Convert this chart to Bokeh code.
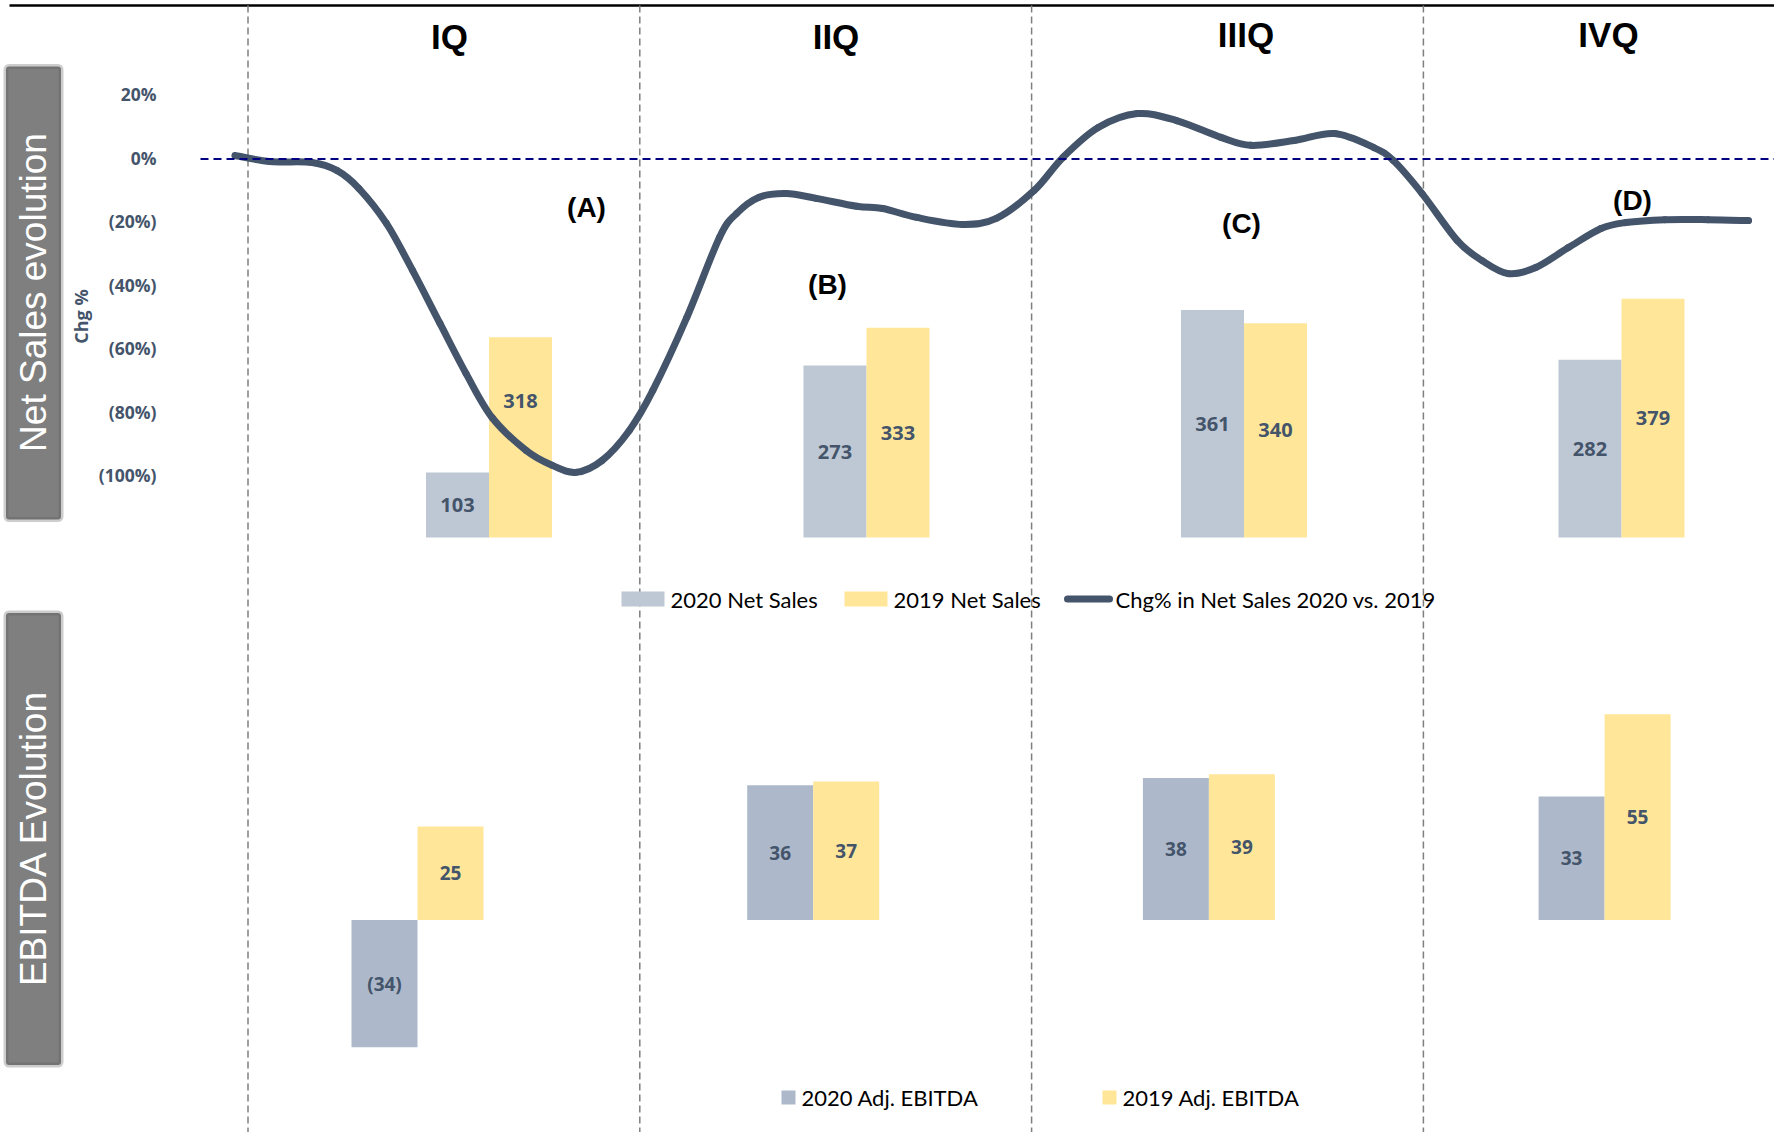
from bokeh.plotting import figure
from bokeh.models import Range1d, BoxAnnotation
from bokeh.core.properties import value
from bokeh.embed import file_html
from bokeh.resources import INLINE
import math

# ---------------------------------------------------------------- data
quarters = ["IQ", "IIQ", "IIIQ", "IVQ"]
notes = ["(A)", "(B)", "(C)", "(D)"]
net_sales_2020 = [103, 273, 361, 282]
net_sales_2019 = [318, 333, 340, 379]
ebitda_2020 = [-34, 36, 38, 33]
ebitda_2019 = [25, 37, 39, 55]
pct_ticks = [20, 0, -20, -40, -60, -80, -100]
quarter_start_month = [0, 3, 6, 9]

# Chg% in Net Sales 2020 vs. 2019 through the year (month, %)
chg_month = [-0.10, 0.17, 0.49, 0.68, 0.85, 1.06, 1.26, 1.47, 1.67, 1.87,
             2.13, 2.33, 2.51, 2.71, 2.92, 3.10, 3.36, 3.61, 3.74, 3.91,
             4.12, 4.35, 4.66, 4.86, 5.12, 5.47, 5.73, 6.02, 6.24, 6.51,
             6.81, 7.11, 7.45, 7.68, 8.01, 8.32, 8.62, 8.77, 8.99, 9.26,
             9.45, 9.65, 9.86, 10.11, 10.36, 10.55, 10.85, 11.18, 11.49]
chg_pct = [1.1, -0.8, -1.1, -3.6, -9.3, -20.3, -35.1, -51.8, -67.6, -81.5,
           -91.8, -96.5, -98.7, -95.0, -85.5, -72.9, -49.9, -24.7, -17.2, -12.1,
           -10.9, -12.4, -14.9, -15.6, -18.4, -20.6, -18.7, -9.9, 0.5, 9.9,
           14.3, 12.1, 6.8, 4.3, 5.8, 8.0, 3.6, -0.5, -10.9, -25.7,
           -32.0, -36.1, -34.2, -27.9, -21.9, -20.0, -19.1, -19.1, -19.4]

# ---------------------------------------------------------------- styles
W, H = 1774, 1132
SLATE = "#44546A"
NS_GREY = "#BEC8D5"
EB_GREY = "#ADB9CA"
GOLD = "#FFE699"
LABEL_FONT = value("Open Sans")
LEGEND_FONT = value("Lato")
ARIAL = value("Liberation Sans")


def fmt_num(v):
    return f"({abs(v)})" if v < 0 else f"{v}"


def fmt_pct(v):
    return f"({abs(v)}%)" if v < 0 else f"{v}%"


p = figure(width=W, height=H, x_range=Range1d(0, W), y_range=Range1d(H, 0),
           output_backend="svg", toolbar_location=None, min_border=0,
           x_axis_location=None, y_axis_location=None, title=None)
p.grid.visible = False
p.outline_line_color = None
p.background_fill_color = "white"
p.border_fill_color = "white"

# scales for the three panels: net sales, change %, EBITDA
NS_X0, NS_STEP = 488.5, 377.5
EB_X0, EB_STEP = 417.0, 395.7
M_X0, M_STEP = 247.5, 130.6
NS_BASE, NS_PX = 537.0, 0.63
PCT_ZERO, PCT_PX = 158.5, 3.175
EB_BASE, EB_PX = 919.5, 3.74

p.extra_x_ranges = {
    "ns": Range1d(-NS_X0 / NS_STEP, (W - NS_X0) / NS_STEP),
    "eb": Range1d(-EB_X0 / EB_STEP, (W - EB_X0) / EB_STEP),
    "month": Range1d(-M_X0 / M_STEP, (W - M_X0) / M_STEP),
}
p.extra_y_ranges = {
    "ns": Range1d(-(H - NS_BASE) / NS_PX, NS_BASE / NS_PX),
    "pct": Range1d(-(H - PCT_ZERO) / PCT_PX, PCT_ZERO / PCT_PX),
    "eb": Range1d(-(H - EB_BASE) / EB_PX, EB_BASE / EB_PX),
}

# ---------------------------------------------------------------- frame
p.segment(x0=[9], x1=[W], y0=[5], y1=[5], line_color="black", line_width=2.5)
p.segment(x0=quarter_start_month, x1=quarter_start_month,
          y0=[5] * 4, y1=[H] * 4, x_range_name="month",
          line_color="#7F7F7F", line_width=1.5, line_dash="7 4")

for top, bottom, caption, cy in [(66, 519, "Net Sales evolution", 292),
                                 (612.5, 1064.5, "EBITDA Evolution", 837.5)]:
    p.add_layout(BoxAnnotation(left=5.5, right=60.5, top=top, bottom=bottom,
                               fill_color="#7F7F7F", fill_alpha=1,
                               line_color="#595959", line_width=5,
                               border_radius=3, level="underlay"))
    p.text(x=[33], y=[cy], text=[caption], angle=math.pi / 2,
           text_align="center", text_baseline="middle",
           text_font=ARIAL, text_font_size="37px", text_color="white")

# quarter headings and notes
p.text(x=[449, 835.5, 1245.5, 1608], y=[36, 36, 34, 34], text=quarters,
       text_align="center", text_baseline="middle", text_font=ARIAL,
       text_font_style="bold", text_font_size="35px", text_color="black")
p.text(x=[586, 827, 1241, 1632], y=[207, 284, 223, 200], text=notes,
       text_align="center", text_baseline="middle", text_font=ARIAL,
       text_font_style="bold", text_font_size="28px", text_color="black")

# ---------------------------------------------------------------- change % axis
p.text(x=[156] * len(pct_ticks), y=pct_ticks, y_range_name="pct",
       text=[fmt_pct(v) for v in pct_ticks], y_offset=-1.5,
       text_align="right", text_baseline="middle", text_font=LABEL_FONT,
       text_font_style="bold", text_font_size="17.5px", text_color=SLATE)
p.text(x=[80], y=[316], text=["Chg %"], angle=math.pi / 2,
       text_align="center", text_baseline="middle", text_font=LABEL_FONT,
       text_font_style="bold", text_font_size="18px", text_color=SLATE)

# ---------------------------------------------------------------- net sales bars
q = list(range(len(quarters)))
bw_ns = 63 / NS_STEP
x20 = [i - bw_ns / 2 for i in q]
x19 = [i + bw_ns / 2 for i in q]
p.vbar(x=x20, top=net_sales_2020, bottom=0, width=bw_ns, x_range_name="ns",
       y_range_name="ns", fill_color=NS_GREY, line_color=None)
p.vbar(x=x19, top=net_sales_2019, bottom=0, width=bw_ns, x_range_name="ns",
       y_range_name="ns", fill_color=GOLD, line_color=None)
lbl19 = [v / 2 for v in net_sales_2019]
lbl19[0] = net_sales_2019[0] * 0.68  # lifted clear of the change-% curve
p.text(x=x20 + x19, y=[v / 2 for v in net_sales_2020] + lbl19,
       text=[fmt_num(v) for v in net_sales_2020 + net_sales_2019],
       x_range_name="ns", y_range_name="ns", text_align="center",
       text_baseline="middle", text_font=LABEL_FONT, text_font_style="bold",
       text_font_size="20px", text_color=SLATE)

# ---------------------------------------------------------------- change % curve
n = len(chg_month)
pts = list(zip(chg_month, chg_pct))
bx0, by0, bx1, by1, c0x, c0y, c1x, c1y = ([] for _ in range(8))
for i in range(n - 1):
    a, b = pts[i], pts[i + 1]
    pa, pb = pts[max(i - 1, 0)], pts[min(i + 2, n - 1)]
    bx0.append(a[0]); by0.append(a[1]); bx1.append(b[0]); by1.append(b[1])
    c0x.append(a[0] + (b[0] - pa[0]) / 6); c0y.append(a[1] + (b[1] - pa[1]) / 6)
    c1x.append(b[0] - (pb[0] - a[0]) / 6); c1y.append(b[1] - (pb[1] - a[1]) / 6)
p.bezier(x0=bx0, y0=by0, x1=bx1, y1=by1, cx0=c0x, cy0=c0y, cx1=c1x, cy1=c1y,
         x_range_name="month", y_range_name="pct", line_color=SLATE,
         line_width=7, line_cap="round")

p.segment(x0=[200], x1=[W], y0=[0], y1=[0], y_range_name="pct",
          line_color="#000080", line_width=2, line_dash="8 5")

# net sales legend
p.quad(left=[621, 844], right=[664, 887], top=[591, 591], bottom=[606, 606],
       fill_color=[NS_GREY, GOLD], line_color=None)
p.segment(x0=[1067], x1=[1109], y0=[598.5], y1=[598.5], line_color=SLATE,
          line_width=7, line_cap="round")
p.text(x=[670, 893, 1115], y=[598.5] * 3,
       text=["2020 Net Sales", "2019 Net Sales", "Chg% in Net Sales 2020 vs. 2019"],
       text_align="left", text_baseline="middle", text_font=LEGEND_FONT,
       text_font_size="22px", text_color="black")

# ---------------------------------------------------------------- EBITDA bars
bw_eb = 66 / EB_STEP
e20 = [i - bw_eb / 2 for i in q]
e19 = [i + bw_eb / 2 for i in q]
p.vbar(x=e20, top=ebitda_2020, bottom=0, width=bw_eb, x_range_name="eb",
       y_range_name="eb", fill_color=EB_GREY, line_color=None)
p.vbar(x=e19, top=ebitda_2019, bottom=0, width=bw_eb, x_range_name="eb",
       y_range_name="eb", fill_color=GOLD, line_color=None)
p.text(x=e20 + e19, y=[v / 2 for v in ebitda_2020 + ebitda_2019],
       text=[fmt_num(v) for v in ebitda_2020 + ebitda_2019],
       x_range_name="eb", y_range_name="eb", text_align="center",
       text_baseline="middle", text_font=LABEL_FONT, text_font_style="bold",
       text_font_size="19px", text_color=SLATE)

# EBITDA legend
p.quad(left=[781, 1102], right=[795, 1116], top=[1090, 1090],
       bottom=[1104, 1104], fill_color=[EB_GREY, GOLD], line_color=None)
p.text(x=[801, 1122], y=[1097] * 2,
       text=["2020 Adj. EBITDA", "2019 Adj. EBITDA"],
       text_align="left", text_baseline="middle", text_font=LEGEND_FONT,
       text_font_size="22px", text_color="black")

open("out.html", "w").write(file_html(p, INLINE))
